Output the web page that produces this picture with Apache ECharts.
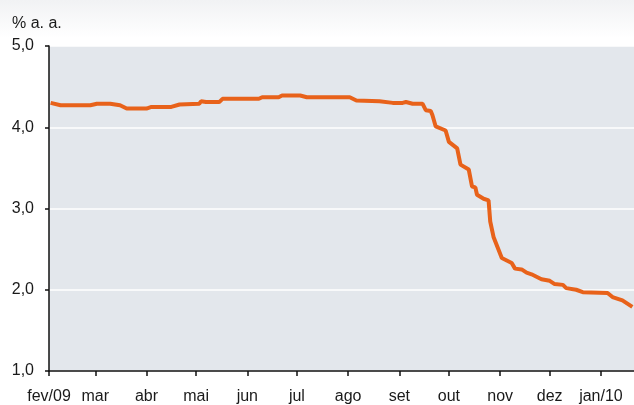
<!DOCTYPE html>
<html><head><meta charset="utf-8">
<script src="https://cdn.jsdelivr.net/npm/echarts@6/dist/echarts.min.js"></script>
<style>
html,body{margin:0;padding:0;background:linear-gradient(#f1f2f4 0px,#ffffff 38px);}
#c{width:634px;height:405px;}
</style>
</head><body><div id="c"></div>
<script>
const dates = ['2009-02-02','2009-02-08','2009-02-26','2009-02-27','2009-03-02','2009-03-10','2009-03-11','2009-03-16','2009-03-20','2009-04-01','2009-04-04','2009-04-16','2009-04-21','2009-05-03','2009-05-04','2009-05-07','2009-05-15','2009-05-17','2009-06-08','2009-06-10','2009-06-20','2009-06-22','2009-07-03','2009-07-07','2009-08-02','2009-08-06','2009-08-20','2009-08-28','2009-09-03','2009-09-05','2009-09-09','2009-09-15','2009-09-17','2009-09-20','2009-09-21','2009-09-23','2009-09-29','2009-10-01','2009-10-06','2009-10-08','2009-10-13','2009-10-15','2009-10-17','2009-10-18','2009-10-22','2009-10-25','2009-10-26','2009-10-28','2009-11-02','2009-11-08','2009-11-10','2009-11-14','2009-11-17','2009-11-20','2009-11-26','2009-12-01','2009-12-04','2009-12-09','2009-12-11','2009-12-17','2009-12-21','2010-01-05','2010-01-08','2010-01-14','2010-01-17','2010-01-20'];
const values = [4.30,4.27,4.27,4.25,4.29,4.29,4.31,4.27,4.23,4.23,4.25,4.25,4.28,4.29,4.32,4.31,4.31,4.35,4.35,4.37,4.37,4.39,4.39,4.37,4.37,4.33,4.32,4.30,4.30,4.31,4.29,4.29,4.21,4.20,4.15,4.01,3.96,3.82,3.74,3.54,3.48,3.27,3.26,3.17,3.12,3.10,2.84,2.65,2.39,2.33,2.26,2.25,2.21,2.19,2.13,2.11,2.07,2.06,2.02,2.00,1.97,1.96,1.91,1.87,1.83,1.79];
const monthTicks = ['2009-02-01','2009-03-01','2009-04-01','2009-05-01','2009-06-01','2009-07-01','2009-08-01','2009-09-01','2009-10-01','2009-11-01','2009-12-01','2010-01-01'];
const monthLabels = ['fev/09','mar','abr','mai','jun','jul','ago','set','out','nov','dez','jan/10'];
const yTickLabels = ['1,0','2,0','3,0','4,0','5,0'];
const unitLabel = '% a. a.';
const axisStart = '2009-02-01';
const axisEnd = '2010-01-21';

function dayNum(s){const p=s.split('-').map(Number);return Math.round((Date.UTC(p[0],p[1]-1,p[2])-Date.UTC(2009,1,1))/86400000);}
const tickDays = monthTicks.map(dayNum);
const seriesData = dates.map((d,i)=>[dayNum(d),values[i]]);

const chart = echarts.init(document.getElementById('c'), null, {renderer:'canvas'});
const font = 'Liberation Sans, Arial, sans-serif';
chart.setOption({
  backgroundColor:'transparent',
  animation:false,
  title:{text:unitLabel,left:7,top:11,textStyle:{fontFamily:font,fontSize:16,fontWeight:'normal',color:'#1a1a1a'}},
  grid:{left:49,right:0,top:46,bottom:34,show:true,backgroundColor:'#e3e7ec',borderWidth:0},
  xAxis:{
    type:'value',min:dayNum(axisStart),max:dayNum(axisEnd),
    axisLine:{lineStyle:{color:'#111',width:1.5}},
    axisTick:{show:true,length:5,lineStyle:{color:'#111',width:1.5},customValues:tickDays},
    axisLabel:{customValues:tickDays,margin:18,fontFamily:font,fontSize:16,color:'#1a1a1a',
      formatter:function(v){const i=tickDays.indexOf(Math.round(v));return i>=0?monthLabels[i]:'';}},
    splitLine:{show:false}
  },
  yAxis:{
    type:'value',min:1,max:5,interval:1,
    axisLine:{show:true,lineStyle:{color:'#111',width:1.5}},
    axisTick:{show:true,length:4,lineStyle:{color:'#111',width:1.5}},
    axisLabel:{margin:15,fontFamily:font,fontSize:16,color:'#1a1a1a',verticalAlign:'middle',padding:[0,0,10,0],
      formatter:function(v){return yTickLabels[Math.round(v)-1];}},
    splitLine:{show:true,lineStyle:{color:'#ffffff',width:1.5}}
  },
  series:[{type:'line',data:seriesData,showSymbol:false,symbol:'none',
    lineStyle:{color:'#e8621a',width:4},itemStyle:{color:'#e8621a'}}]
});
</script></body></html>
